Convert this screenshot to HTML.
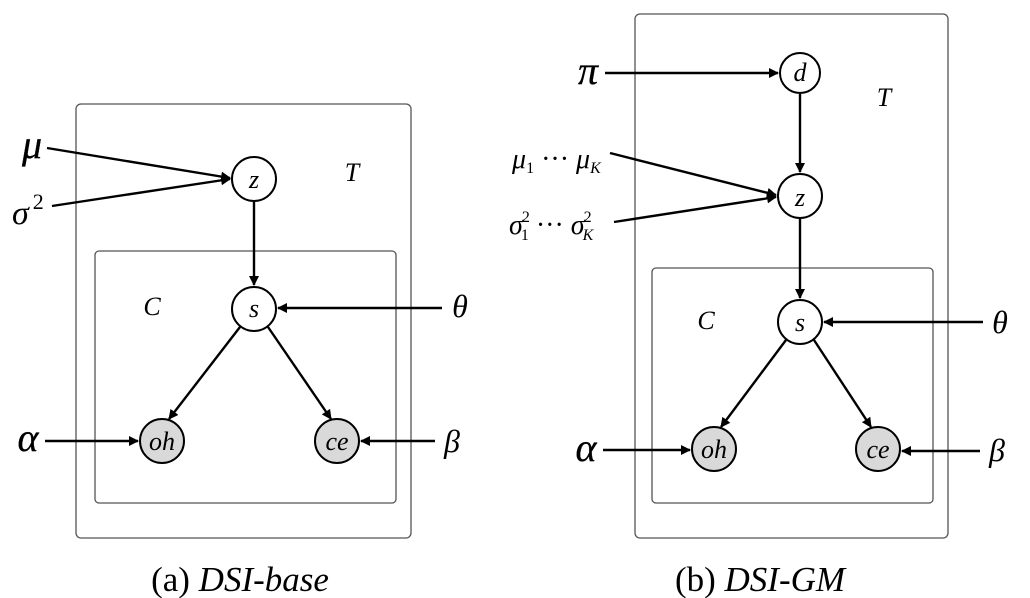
<!DOCTYPE html>
<html><head><meta charset="utf-8"><style>body{margin:0;background:#fff}svg{display:block}</style></head>
<body>
<svg width="1030" height="598" viewBox="0 0 1030 598" xmlns="http://www.w3.org/2000/svg" font-family="Liberation Serif, serif" font-style="italic">
<defs><marker id="a" markerWidth="10" markerHeight="10" refX="9" refY="5" orient="auto" markerUnits="userSpaceOnUse"><path d="M0,0 L10,5 L0,10 z" fill="#000"/></marker></defs>
<g fill="none" stroke="#555" stroke-width="1.3">
<rect x="76" y="104" width="335" height="434" rx="5"/>
<rect x="95" y="251" width="301" height="252" rx="4"/>
<rect x="635" y="14" width="313" height="524" rx="5"/>
<rect x="652" y="268" width="281" height="235" rx="4"/>
</g>
<g stroke="#000" stroke-width="2.4" marker-end="url(#a)">
<line x1="47" y1="148" x2="230" y2="178"/>
<line x1="52" y1="206" x2="230" y2="179"/>
<line x1="254" y1="202" x2="254" y2="285"/>
<line x1="442" y1="308" x2="278" y2="308"/>
<line x1="240" y1="327" x2="169" y2="419"/>
<line x1="268" y1="327" x2="331" y2="419"/>
<line x1="45" y1="441" x2="138" y2="441"/>
<line x1="435" y1="441" x2="361" y2="441"/>
<line x1="605" y1="73" x2="778" y2="73"/>
<line x1="800" y1="94" x2="800" y2="172"/>
<line x1="610" y1="153" x2="776" y2="195"/>
<line x1="614" y1="222" x2="776" y2="197"/>
<line x1="800" y1="219" x2="800" y2="298"/>
<line x1="983" y1="322" x2="824" y2="322"/>
<line x1="786" y1="340" x2="721" y2="427"/>
<line x1="814" y1="340" x2="871" y2="427"/>
<line x1="603" y1="450" x2="690" y2="450"/>
<line x1="980" y1="451" x2="902" y2="451"/>
</g>
<g stroke="#000" stroke-width="2" fill="#fff">
<circle cx="254" cy="179" r="22"/><circle cx="254" cy="309" r="22"/>
<circle cx="162" cy="441" r="22" fill="#d9d9d9"/><circle cx="337" cy="441" r="22" fill="#d9d9d9"/>
<circle cx="800" cy="73" r="20"/><circle cx="800" cy="196" r="22"/><circle cx="800" cy="322" r="22"/>
<circle cx="714" cy="449" r="22" fill="#d9d9d9"/><circle cx="878" cy="449" r="22" fill="#d9d9d9"/>
</g>
<g font-size="26" text-anchor="middle">
<text x="254" y="188">z</text><text x="254" y="317">s</text><text x="162" y="450">oh</text><text x="337" y="450">ce</text>
<text x="800" y="81">d</text><text x="800" y="206">z</text><text x="800" y="331">s</text><text x="714" y="458">oh</text><text x="878" y="458">ce</text>
<text x="352" y="181">T</text><text x="152" y="315">C</text><text x="884" y="106">T</text><text x="706" y="329">C</text>
</g>
<g font-size="40" text-anchor="middle" stroke="#000" stroke-width="0.3">
<text x="32" y="158">μ</text><text x="28" y="451">α</text><text x="588" y="84">π</text><text x="586" y="461">α</text>
</g>
<g font-size="32" text-anchor="middle">
<text x="460" y="317">θ</text><text x="1000" y="333">θ</text>
<text x="452" y="452">β</text><text x="997" y="461">β</text>
</g>
<text x="12" y="224" font-size="34">σ<tspan font-size="22" font-style="normal" dx="4" dy="-15">2</tspan></text>
<text x="512" y="168" font-size="28">μ<tspan font-size="16" font-style="normal" dy="5">1</tspan><tspan dy="-5" font-style="normal"> ··· </tspan>μ<tspan font-size="16" dy="5">K</tspan></text>
<text x="509" y="234" font-size="28">σ<tspan font-size="16" font-style="normal" dx="-1" dy="-12">2</tspan><tspan font-size="16" font-style="normal" dx="-9" dy="18">1</tspan><tspan dy="-6" font-style="normal"> ··· </tspan>σ<tspan font-size="16" font-style="normal" dx="-1" dy="-12">2</tspan><tspan font-size="16" dx="-9" dy="18">K</tspan></text>
<g font-size="35" font-style="normal" text-anchor="middle">
<text x="240" y="591">(a) <tspan font-style="italic">DSI-base</tspan></text>
<text x="760" y="591">(b) <tspan font-style="italic">DSI-GM</tspan></text>
</g>
</svg>
</body></html>
